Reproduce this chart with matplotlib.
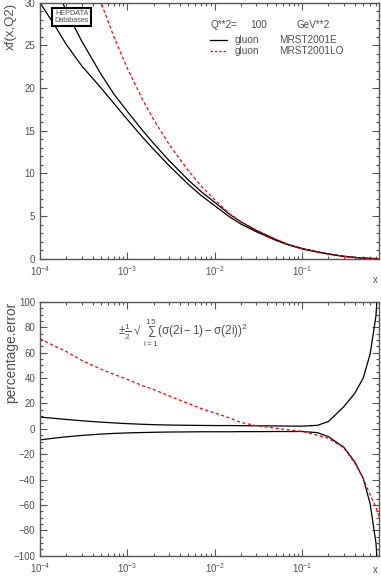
"""Gluon xf(x,Q2) at Q**2 = 100 GeV**2 with MRST2001E error band, HEPDATA style."""
import matplotlib
matplotlib.use("Agg")
import matplotlib.pyplot as plt
from matplotlib.ticker import MultipleLocator, LogLocator, NullFormatter

plt.rcParams["font.family"] = ["Liberation Sans", "DejaVu Sans"]
plt.rcParams["mathtext.fontset"] = "custom"
plt.rcParams["mathtext.rm"] = "Liberation Sans"
plt.rcParams["mathtext.it"] = "Liberation Sans"
plt.rcParams["mathtext.default"] = "regular"

TEXT = "#505050"

# x grid the values were read at
x = [1e-4, 1.5e-4, 2e-4, 3e-4, 5e-4, 7e-4, 1e-3, 1.5e-3, 2e-3, 3e-3, 5e-3, 7e-3,
     1e-2, 1.5e-2, 2e-2, 3e-2, 5e-2, 7e-2, 0.1, 0.15, 0.2, 0.3, 0.4, 0.5, 0.6, 0.7, 0.76]

# top panel: xf(x,Q2)
xf_lo_band = [30.0, 27.2, 25.1, 22.6, 20.0, 18.2, 16.3, 14.2, 12.8, 10.9, 8.7, 7.4,
              6.2, 4.85, 4.05, 3.15, 2.15, 1.6, 1.15, 0.78, 0.54, 0.27, 0.14, 0.07, 0.03, 0.01, 0.0]
xf_hi_band = [35.5, 32.0, 29.0, 25.5, 21.6, 19.3, 17.25, 15.0, 13.5, 11.5, 9.2, 7.85,
              6.6, 5.15, 4.3, 3.3, 2.25, 1.65, 1.2, 0.8, 0.56, 0.28, 0.15, 0.07, 0.03, 0.01, 0.0]
xf_mrst_lo = [56.0, 49.0, 44.0, 37.5, 30.0, 26.0, 22.3, 18.6, 16.3, 13.4, 10.3, 8.5,
              6.9, 5.2, 4.35, 3.35, 2.25, 1.65, 1.15, 0.78, 0.54, 0.28, 0.15, 0.07, 0.03, 0.01, 0.0]

# bottom panel: percentage error
err_hi = [9.3, 8.2, 7.4, 6.4, 5.3, 4.7, 4.1, 3.6, 3.3, 3.0, 2.8, 2.7,
          2.6, 2.6, 2.5, 2.4, 2.3, 2.2, 2.1, 2.8, 5.8, 17.5, 28.0, 40.0, 59.0, 89.0, 130.0]
err_lo = [-8.7, -7.2, -6.3, -5.2, -4.1, -3.6, -3.2, -2.9, -2.7, -2.5, -2.4, -2.3,
          -2.3, -2.3, -2.2, -2.2, -2.1, -2.1, -2.1, -3.0, -6.2, -14.5, -26.0, -39.0, -59.0, -90.0, -125.0]
err_mrst_lo = [71.0, 65.0, 61.0, 54.0, 47.0, 43.0, 39.0, 34.0, 31.0, 26.0, 20.0, 16.0,
               12.5, 8.5, 5.0, 2.5, 0.5, -0.8, -2.0, -5.0, -7.5, -15.0, -27.0, -39.0, -52.0, -62.0, -69.0]

X_RANGE = (1e-4, 0.76)


def style_axes(ax, xlabel_drop):
    ax.set_xscale("log")
    ax.set_xlim(*X_RANGE)
    ax.xaxis.set_major_locator(LogLocator(base=10, numticks=10))
    ax.xaxis.set_minor_locator(LogLocator(base=10, subs=range(2, 10), numticks=20))
    ax.xaxis.set_minor_formatter(NullFormatter())
    ax.tick_params(which="both", direction="in", top=True, right=True,
                   colors="#555555", labelcolor=TEXT, labelsize=7, width=0.8)
    ax.tick_params(which="major", length=5)
    ax.tick_params(which="minor", length=2.5)
    ax.tick_params(axis="x", pad=4)
    for s in ax.spines.values():
        s.set_color("#555555")
        s.set_linewidth(1.0)
    ax.annotate("x", xy=(1.0, 0.0), xycoords="axes fraction", xytext=(-1, -xlabel_drop),
                textcoords="offset points", ha="right", va="top", fontsize=7, color=TEXT)


def main():
    fig = plt.figure(figsize=(3.81, 5.80), dpi=100)
    ax1 = fig.add_axes([0.105, 0.554, 0.890, 0.4414])
    ax2 = fig.add_axes([0.105, 0.0419, 0.890, 0.4374])

    # top: xf
    ax1.plot(x, xf_lo_band, color="black", lw=0.9)
    ax1.plot(x, xf_hi_band, color="black", lw=0.9)
    ax1.plot(x, xf_mrst_lo, color="red", lw=0.9, ls=(0, (2.5, 2.0)))
    style_axes(ax1, 12)
    ax1.set_ylim(0, 30)
    ax1.yaxis.set_major_locator(MultipleLocator(5))
    ax1.yaxis.set_minor_locator(MultipleLocator(1))
    ax1.text(-0.085, 1.0, "xf(x,Q2)", rotation=90, ha="center", va="top",
             transform=ax1.transAxes, fontsize=9.5, color=TEXT)

    ax1.text(0.094, 0.944, "HEPDATA\nDatabases", transform=ax1.transAxes, ha="center",
             va="center", fontsize=5.2, color=TEXT, linespacing=0.95,
             bbox=dict(boxstyle="square,pad=0.3", fc="white", ec="black", lw=1.5))

    fs = 7.2
    ax1.text(0.504, 0.913, "Q**2=", transform=ax1.transAxes, fontsize=fs, color=TEXT, va="center")
    ax1.text(0.620, 0.913, "100", transform=ax1.transAxes, fontsize=fs, color=TEXT, va="center")
    ax1.text(0.755, 0.913, "GeV**2", transform=ax1.transAxes, fontsize=fs, color=TEXT, va="center")
    ax1.plot([0.50, 0.55], [0.854, 0.854], transform=ax1.transAxes, color="black", lw=0.9)
    ax1.plot([0.50, 0.55], [0.811, 0.811], transform=ax1.transAxes, color="red", lw=0.9,
             ls=(0, (2.0, 1.5)))
    for yy, name in [(0.854, "MRST2001E"), (0.811, "MRST2001LO")]:
        ax1.text(0.575, yy, "gluon", transform=ax1.transAxes, fontsize=fs, color=TEXT, va="center")
        ax1.text(0.705, yy, name, transform=ax1.transAxes, fontsize=fs, color=TEXT, va="center")

    # bottom: percentage error
    ax2.plot(x, err_hi, color="black", lw=0.9)
    ax2.plot(x, err_lo, color="black", lw=0.9)
    ax2.plot(x, err_mrst_lo, color="red", lw=0.9, ls=(0, (2.5, 2.0)))
    style_axes(ax2, 7)
    ax2.set_ylim(-100, 100)
    ax2.yaxis.set_major_locator(MultipleLocator(20))
    ax2.yaxis.set_minor_locator(MultipleLocator(5))
    ax2.text(-0.085, 1.0, "percentage.error", rotation=90, ha="center", va="top",
             transform=ax2.transAxes, fontsize=9.8, color=TEXT)
    ax2.text(0.23, 0.878,
             r"$\pm\frac{1}{2}\ $√$\ \sum_{i=1}^{15}(\sigma(2i-1)-\sigma(2i))^2$",
             transform=ax2.transAxes, fontsize=8.5, color=TEXT, va="center", ha="left")

    fig.savefig("out.png", dpi=100)


if __name__ == "__main__":
    main()
